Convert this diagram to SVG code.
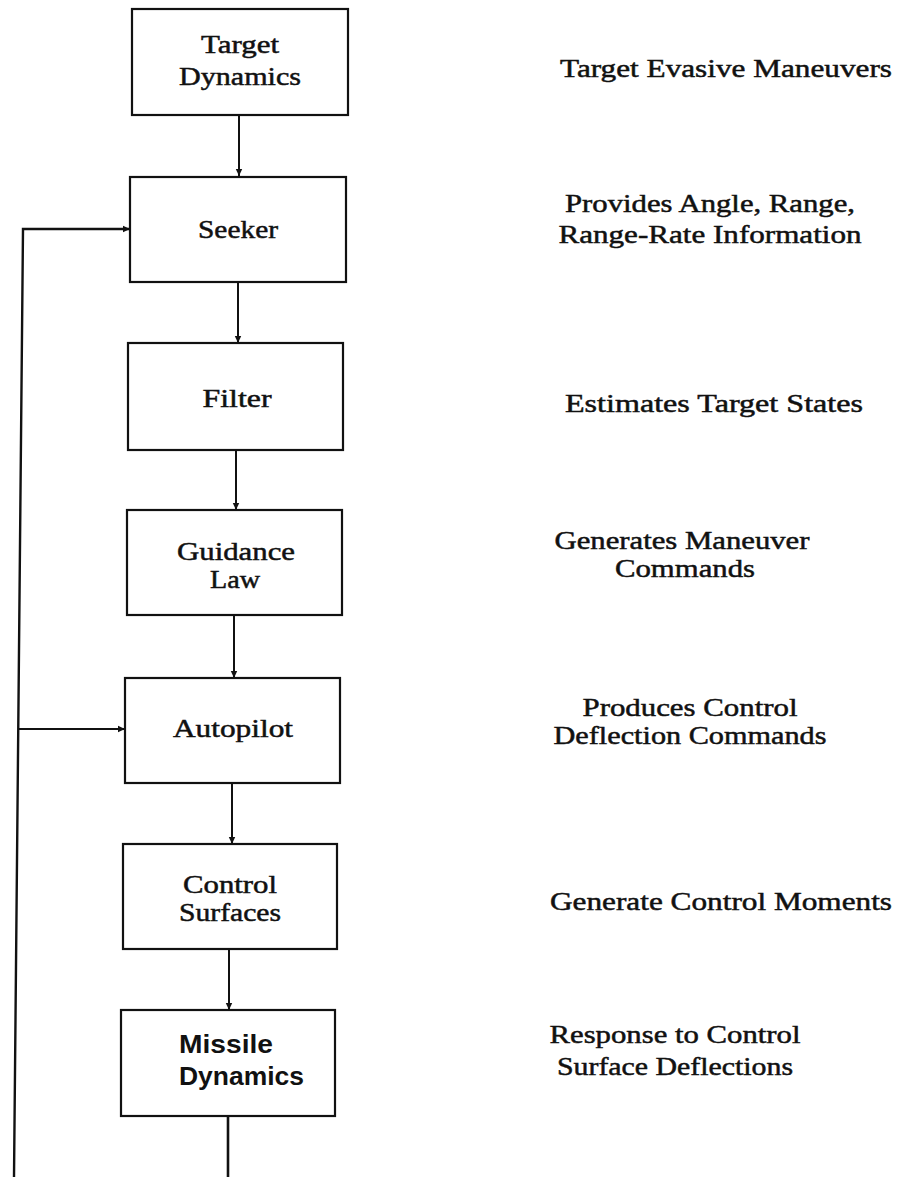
<svg xmlns="http://www.w3.org/2000/svg" width="898" height="1177" viewBox="0 0 898 1177">
<defs>
<marker id="ah" markerUnits="userSpaceOnUse" markerWidth="8" markerHeight="8" refX="7" refY="4" orient="auto">
<path d="M0,0.8 L7,4 L0,7.2 z" fill="#111"/>
</marker>
<style>
.box{fill:#fff;stroke:#111;stroke-width:2.2}
.t{font-family:"Liberation Serif","Times New Roman",serif;font-size:26px;fill:#111;stroke:#111;stroke-width:0.5;text-anchor:middle}
.d{font-family:"Liberation Serif","Times New Roman",serif;font-size:26px;fill:#111;stroke:#111;stroke-width:0.5;text-anchor:middle}
.s{font-family:"Liberation Sans",Arial,sans-serif;font-weight:bold;font-size:25px;fill:#111}
.c{fill:none;stroke:#111;stroke-width:2}
</style>
</defs>
<rect width="898" height="1177" fill="#fff"/>
<g id="connectors">
<line class="c" x1="239" y1="115" x2="239" y2="176" marker-end="url(#ah)"/>
<line class="c" x1="238" y1="282" x2="238" y2="343" marker-end="url(#ah)"/>
<line class="c" x1="236" y1="450" x2="236" y2="510" marker-end="url(#ah)"/>
<line class="c" x1="234" y1="615" x2="234" y2="678" marker-end="url(#ah)"/>
<line class="c" x1="232" y1="783" x2="232" y2="844" marker-end="url(#ah)"/>
<line class="c" x1="229" y1="949" x2="229" y2="1010" marker-end="url(#ah)"/>
<line class="c" x1="228" y1="1116" x2="228" y2="1177" style="stroke-width:2.6"/>
<polyline class="c" points="14,1177 23,229 130,229" style="stroke-width:2.4" marker-end="url(#ah)"/>
<line class="c" x1="18.3" y1="729" x2="125" y2="729" marker-end="url(#ah)"/>
</g>
<g id="target-dynamics">
<rect class="box" x="132" y="9" width="216" height="106"/>
<text class="t" x="240" y="53" textLength="78" lengthAdjust="spacingAndGlyphs">Target</text>
<text class="t" x="240" y="85" textLength="122" lengthAdjust="spacingAndGlyphs">Dynamics</text>
</g>
<g id="seeker">
<rect class="box" x="130" y="177" width="216" height="105"/>
<text class="t" x="238" y="238" textLength="80" lengthAdjust="spacingAndGlyphs">Seeker</text>
</g>
<g id="filter">
<rect class="box" x="128" y="343" width="215" height="107"/>
<text class="t" x="237" y="407" textLength="69" lengthAdjust="spacingAndGlyphs">Filter</text>
</g>
<g id="guidance-law">
<rect class="box" x="127" y="510" width="215" height="105"/>
<text class="t" x="236" y="560" textLength="118" lengthAdjust="spacingAndGlyphs">Guidance</text>
<text class="t" x="235" y="588" textLength="50" lengthAdjust="spacingAndGlyphs">Law</text>
</g>
<g id="autopilot">
<rect class="box" x="125" y="678" width="215" height="105"/>
<text class="t" x="233" y="737" textLength="120" lengthAdjust="spacingAndGlyphs">Autopilot</text>
</g>
<g id="control-surfaces">
<rect class="box" x="123" y="844" width="214" height="105"/>
<text class="t" x="230" y="893" textLength="94" lengthAdjust="spacingAndGlyphs">Control</text>
<text class="t" x="230" y="921" textLength="102" lengthAdjust="spacingAndGlyphs">Surfaces</text>
</g>
<g id="missile-dynamics">
<rect class="box" x="121" y="1010" width="214" height="106"/>
<text class="s" x="179" y="1053" textLength="94" lengthAdjust="spacingAndGlyphs">Missile</text>
<text class="s" x="179" y="1085" textLength="125" lengthAdjust="spacingAndGlyphs">Dynamics</text>
</g>
<g id="descriptions">
<text class="d" x="726" y="77" textLength="332" lengthAdjust="spacingAndGlyphs">Target Evasive Maneuvers</text>
<text class="d" x="710" y="212" textLength="290" lengthAdjust="spacingAndGlyphs">Provides Angle, Range,</text>
<text class="d" x="710" y="243" textLength="303" lengthAdjust="spacingAndGlyphs">Range-Rate Information</text>
<text class="d" x="714" y="412" textLength="298" lengthAdjust="spacingAndGlyphs">Estimates Target States</text>
<text class="d" x="682" y="549" textLength="255" lengthAdjust="spacingAndGlyphs">Generates Maneuver</text>
<text class="d" x="685" y="577" textLength="140" lengthAdjust="spacingAndGlyphs">Commands</text>
<text class="d" x="690" y="716" textLength="215" lengthAdjust="spacingAndGlyphs">Produces Control</text>
<text class="d" x="690" y="744" textLength="273" lengthAdjust="spacingAndGlyphs">Deflection Commands</text>
<text class="d" x="721" y="910" textLength="342" lengthAdjust="spacingAndGlyphs">Generate Control Moments</text>
<text class="d" x="675" y="1043" textLength="251" lengthAdjust="spacingAndGlyphs">Response to Control</text>
<text class="d" x="675" y="1075" textLength="236" lengthAdjust="spacingAndGlyphs">Surface Deflections</text>
</g>
</svg>
